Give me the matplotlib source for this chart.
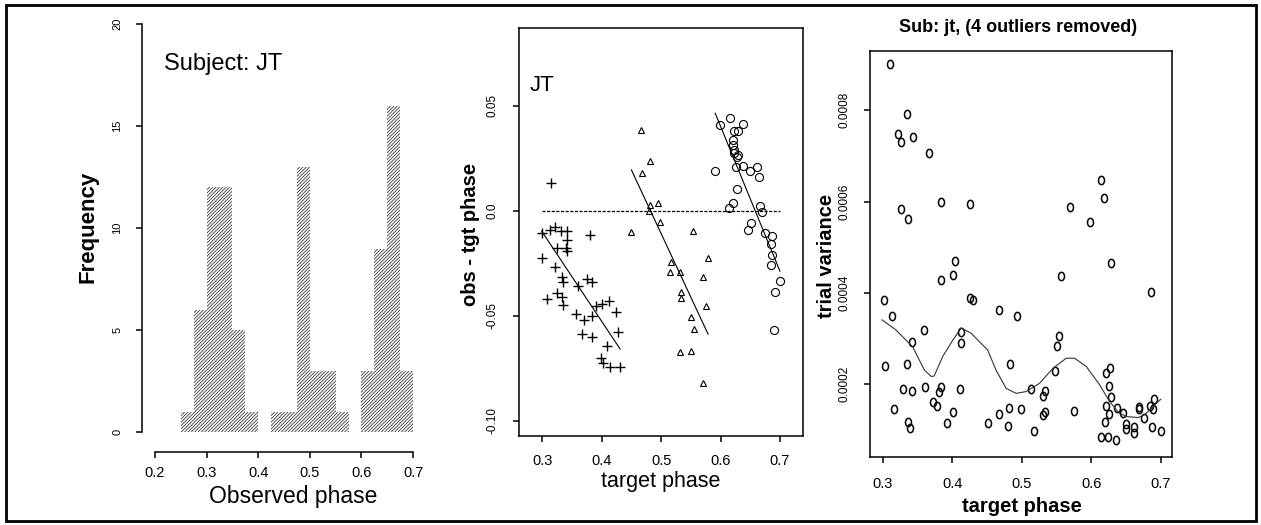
import numpy as np
import matplotlib
matplotlib.use('Agg')
import matplotlib.pyplot as plt
from matplotlib.path import Path
from matplotlib.patches import Rectangle
from matplotlib.transforms import Affine2D

# ---------------- data ----------------
# Panel 1: histogram of observed phase (bins of width 0.025)
hist_bin_start = [0.25, 0.275, 0.30, 0.325, 0.35, 0.375,
                  0.425, 0.45, 0.475, 0.50, 0.525, 0.55,
                  0.60, 0.625, 0.65, 0.675]
hist_counts = [1, 6, 12, 12, 5, 1,
               1, 1, 13, 3, 3, 1,
               3, 9, 16, 3]
hist_xticks = [0.2, 0.3, 0.4, 0.5, 0.6, 0.7]
hist_yticks = [0, 5, 10, 15, 20]

# Panel 2: obs - tgt phase vs target phase, three groups
plus_x = [0.315, 0.300, 0.313, 0.321, 0.331, 0.341, 0.342, 0.325, 0.340, 0.342,
          0.381, 0.299, 0.321, 0.333, 0.335, 0.360, 0.375, 0.384, 0.308, 0.325,
          0.333, 0.335, 0.356, 0.370, 0.384, 0.390, 0.400, 0.413, 0.424, 0.427,
          0.366, 0.384, 0.409, 0.399, 0.402, 0.414, 0.431]
plus_y = [0.0130, -0.0108, -0.0090, -0.0080, -0.0095, -0.0095, -0.0140, -0.0176, -0.0180, -0.0190,
          -0.0116, -0.0224, -0.0270, -0.0317, -0.0340, -0.0357, -0.0327, -0.0338, -0.0422, -0.0394,
          -0.0413, -0.0450, -0.0492, -0.0520, -0.0500, -0.0454, -0.0444, -0.0430, -0.0484, -0.0576,
          -0.0589, -0.0603, -0.0644, -0.0703, -0.0724, -0.0746, -0.0743]
tri_x = [0.466, 0.482, 0.468, 0.482, 0.494, 0.480, 0.498, 0.450, 0.554, 0.579, 0.517,
         0.515, 0.532, 0.571, 0.533, 0.533, 0.576, 0.551, 0.556, 0.532, 0.550, 0.570]
tri_y = [0.0384, 0.0237, 0.0178, 0.0027, 0.0038, 0.0000, -0.0056, -0.0102, -0.0095, -0.0224, -0.0246,
         -0.0294, -0.0294, -0.0314, -0.0386, -0.0417, -0.0454, -0.0506, -0.0565, -0.0671, -0.0668, -0.0822]
circ_x = [0.616, 0.599, 0.637, 0.622, 0.630, 0.621, 0.621, 0.622, 0.623, 0.630, 0.627,
          0.626, 0.637, 0.591, 0.650, 0.661, 0.664, 0.627, 0.621, 0.614, 0.667, 0.669,
          0.651, 0.647, 0.675, 0.686, 0.685, 0.686, 0.685, 0.700, 0.691, 0.690]
circ_y = [0.0443, 0.0408, 0.0411, 0.0381, 0.0381, 0.0337, 0.0313, 0.0289, 0.0273, 0.0265, 0.0257,
          0.0210, 0.0213, 0.0190, 0.0189, 0.0207, 0.0162, 0.0102, 0.0038, 0.0011, 0.0022, -0.0005,
          -0.0057, -0.0092, -0.0108, -0.0120, -0.0159, -0.0211, -0.0259, -0.0333, -0.0386, -0.0568]
# fitted regression lines (slope, intercept) per group
fit_slopes = [-0.425, -0.606, -0.690]
fit_intercepts = [0.1173, 0.2921, 0.4542]
p2_xticks = [0.3, 0.4, 0.5, 0.6, 0.7]
p2_yticks = [-0.10, -0.05, 0.0, 0.05]
p2_yticklabels = ['-0.10', '-0.05', '0.0', '0.05']

# Panel 3: trial variance vs target phase
var_x = [0.3106, 0.335, 0.3226, 0.327, 0.343, 0.367, 0.384, 0.425, 0.327, 0.336,
         0.6135, 0.618, 0.570, 0.5986, 0.404, 0.401, 0.384, 0.628, 0.557, 0.6855,
         0.3014, 0.426, 0.4296, 0.468, 0.4935, 0.313, 0.359, 0.4128, 0.4128, 0.342,
         0.5531, 0.5506, 0.5486, 0.3034, 0.335, 0.4834, 0.6216, 0.6274, 0.6254, 0.3288,
         0.3422, 0.361, 0.384, 0.3816, 0.4114, 0.5136, 0.5338, 0.5304, 0.6279, 0.6216,
         0.372, 0.378, 0.3168, 0.401, 0.4666, 0.4824, 0.4983, 0.5338, 0.5304, 0.5751,
         0.6375, 0.6457, 0.6254, 0.6192, 0.336, 0.3398, 0.392, 0.4512, 0.480, 0.5175,
         0.6144, 0.624, 0.635, 0.6505, 0.6505, 0.6615, 0.6615, 0.6683, 0.6683, 0.6759,
         0.6841, 0.6898, 0.6889, 0.6874, 0.7009]
var_y = [0.000901, 0.000791, 0.000747, 0.000730, 0.000742, 0.000706, 0.000600, 0.000594, 0.000584, 0.000561,
         0.000647, 0.000607, 0.000589, 0.000555, 0.000471, 0.000439, 0.000428, 0.000465, 0.000436, 0.000401,
         0.000385, 0.000388, 0.000385, 0.000363, 0.000350, 0.000350, 0.000319, 0.000314, 0.000290, 0.000293,
         0.000306, 0.000284, 0.000228, 0.000241, 0.000245, 0.000245, 0.000224, 0.000235, 0.000196, 0.000189,
         0.000186, 0.000193, 0.000193, 0.000184, 0.000189, 0.000190, 0.000186, 0.000175, 0.000171, 0.000153,
         0.000162, 0.000153, 0.000145, 0.000140, 0.000135, 0.000147, 0.000145, 0.000139, 0.000133, 0.000142,
         0.000149, 0.000138, 0.000135, 0.000118, 0.000117, 0.000104, 0.000115, 0.000115, 0.000109, 0.000098,
         0.000085, 0.000085, 0.000077, 0.000113, 0.000101, 0.000107, 0.000093, 0.000151, 0.000145, 0.000126,
         0.000153, 0.000167, 0.000145, 0.000107, 0.000098]
smooth_x = [0.299, 0.319, 0.343, 0.360, 0.370, 0.374, 0.3864, 0.401, 0.4128, 0.427,
            0.451, 0.463, 0.4776, 0.492, 0.5064, 0.5256, 0.545, 0.564, 0.576, 0.5928,
            0.612, 0.6264, 0.6408, 0.6525, 0.6672, 0.6768, 0.689, 0.700]
smooth_y = [0.000341, 0.000319, 0.000282, 0.000231, 0.000217, 0.000218, 0.000261, 0.000297, 0.000323, 0.000312,
            0.000275, 0.000231, 0.000191, 0.000180, 0.000184, 0.000202, 0.000235, 0.000257, 0.000257, 0.000239,
            0.000199, 0.000162, 0.000136, 0.000129, 0.000127, 0.000133, 0.000151, 0.000167]
p3_xticks = [0.3, 0.4, 0.5, 0.6, 0.7]
p3_yticks = [0.0002, 0.0004, 0.0006, 0.0008]
p3_yticklabels = ['0.0002', '0.0004', '0.0006', '0.0008']

# ---------------- figure ----------------
plt.rcParams['font.family'] = ['Liberation Sans', 'DejaVu Sans']
plt.rcParams['hatch.linewidth'] = 0.55

W, H = 1261, 525
fig = plt.figure(figsize=(W / 100, H / 100), dpi=100)


def box(l, t, r, b):
    return [l / W, 1 - b / H, (r - l) / W, (b - t) / H]


def fx(x):
    return x / W


def fy(y):
    return 1 - y / H


TICK_LEN = 4
SPINE_LW = 1.1

# ---- Panel 1 ----
ax1 = fig.add_axes(box(142, 8, 426, 452))
ax1.bar(hist_bin_start, hist_counts, width=0.025, align='edge',
        facecolor='white', edgecolor='#2a2a2a', hatch='/' * 10, linewidth=0)
ax1.set_xlim(0.175, 0.725)
ax1.set_ylim(-0.98, 20.8)
for s in ['top', 'right']:
    ax1.spines[s].set_visible(False)
ax1.spines['left'].set_bounds(0, 20)
ax1.spines['bottom'].set_bounds(0.2, 0.7)
for s in ['left', 'bottom']:
    ax1.spines[s].set_linewidth(SPINE_LW)
ax1.set_xticks(hist_xticks)
ax1.set_xticklabels([f'{v:.1f}' for v in hist_xticks], fontsize=10.5)
ax1.set_yticks(hist_yticks)
ax1.set_yticklabels([str(v) for v in hist_yticks], fontsize=8, rotation=90, va='center')
ax1.tick_params(axis='x', length=TICK_LEN, width=SPINE_LW, pad=6)
ax1.tick_params(axis='y', length=TICK_LEN, width=SPINE_LW, pad=10)
fig.text(fx(164), fy(64), 'Subject: JT', fontsize=17, ha='left', va='center')
fig.text(fx(293), fy(497), 'Observed phase', fontsize=16.5, ha='center', va='center')
fig.text(fx(88), fy(227), 'Frequency', fontsize=16, fontweight='bold', rotation=90,
         ha='center', va='center')

# ---- Panel 2 ----
ax2 = fig.add_axes(box(519.3, 28, 803.3, 436))
ax2.plot(plus_x, plus_y, linestyle='none', marker='+', color='black', ms=6.5, mew=1.0)
ax2.plot(tri_x, tri_y, linestyle='none', marker='^', mfc='none', mec='black', ms=4.5, mew=0.8)
ax2.plot(circ_x, circ_y, linestyle='none', marker='o', mfc='none', mec='black', ms=5.8, mew=0.8)
for gx, sl, ic in zip([plus_x, tri_x, circ_x], fit_slopes, fit_intercepts):
    xs = np.array([min(gx), max(gx)])
    ax2.plot(xs, sl * xs + ic, color='black', lw=0.8)
ax2.hlines(0, 0.3, 0.7, colors='black', linestyles=(0, (2.5, 1.2)), lw=0.9)
ax2.set_xlim(0.2613, 0.7393)
ax2.set_ylim(-0.1073, 0.087)
for s in ax2.spines.values():
    s.set_linewidth(SPINE_LW)
ax2.set_xticks(p2_xticks)
ax2.set_xticklabels([f'{v:.1f}' for v in p2_xticks], fontsize=10.5)
ax2.set_yticks(p2_yticks)
ax2.set_yticklabels(p2_yticklabels, fontsize=8.5, rotation=90, va='center')
ax2.tick_params(axis='x', length=TICK_LEN, width=SPINE_LW, pad=9)
ax2.tick_params(axis='y', length=TICK_LEN, width=SPINE_LW, pad=11)
ax2.text(0.035, 0.86, 'JT', transform=ax2.transAxes, fontsize=16, ha='left', va='center')
fig.text(fx(661), fy(482), 'target phase', fontsize=15.5, ha='center', va='center')
fig.text(fx(470), fy(234), 'obs - tgt phase', fontsize=14.5, fontweight='bold', rotation=90,
         ha='center', va='center')

# ---- Panel 3 ----
ellipse = Path.unit_circle().transformed(Affine2D().scale(0.72, 1.0))
ax3 = fig.add_axes(box(870, 50.7, 1171.7, 457.3))
ax3.plot(var_x, var_y, linestyle='none', marker=ellipse, mfc='none', mec='black', ms=6, mew=1.1)
ax3.plot(smooth_x, smooth_y, color='#333333', lw=0.8)
ax3.set_xlim(0.2817, 0.7158)
ax3.set_ylim(0.00004, 0.0009305)
for s in ax3.spines.values():
    s.set_linewidth(SPINE_LW)
ax3.set_xticks(p3_xticks)
ax3.set_xticklabels([f'{v:.1f}' for v in p3_xticks], fontsize=10.5)
ax3.set_yticks(p3_yticks)
ax3.set_yticklabels(p3_yticklabels, fontsize=8.5, rotation=90, va='center')
ax3.tick_params(axis='x', length=TICK_LEN, width=SPINE_LW, pad=10)
ax3.tick_params(axis='y', length=TICK_LEN, width=SPINE_LW, pad=10)
fig.text(fx(1018), fy(27), 'Sub: jt, (4 outliers removed)', fontsize=13, fontweight='bold',
         ha='center', va='center')
fig.text(fx(1022), fy(507), 'target phase', fontsize=14.5, fontweight='bold', ha='center', va='center')
fig.text(fx(826), fy(256), 'trial variance', fontsize=14.5, fontweight='bold', rotation=90,
         ha='center', va='center')

# outer frame
fig.patches.append(Rectangle((fx(6), fy(521)), fx(1256) - fx(6), fy(5) - fy(521),
                             transform=fig.transFigure, fill=False, lw=2, edgecolor='black'))

fig.savefig('out.png', dpi=100)
